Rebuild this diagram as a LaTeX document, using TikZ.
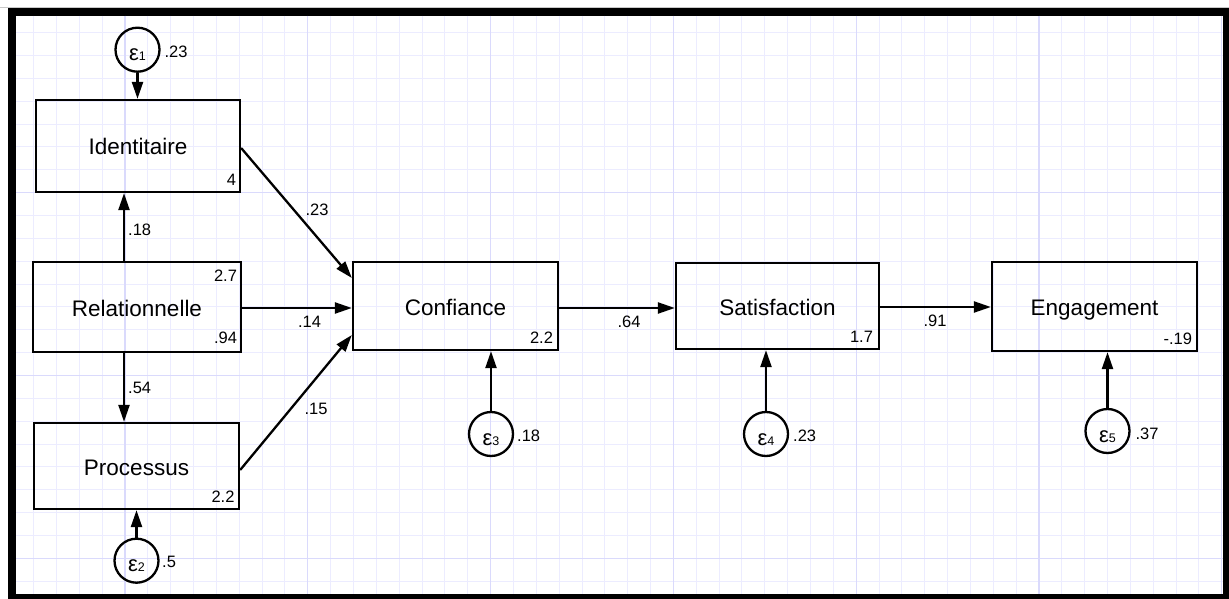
\documentclass[tikz,border=0pt]{standalone}
\usepackage{fontspec}
\setmainfont{Liberation Sans}
\usetikzlibrary{arrows.meta,calc}

\definecolor{gridminor}{RGB}{236,236,255}
\definecolor{gridmajor}{RGB}{218,218,252}
\definecolor{edgegray}{RGB}{200,200,200}

% error term label: epsilon with a small index
\newcommand\errlabel[1]{{\fontsize{22}{22}\selectfont ε}{\fontsize{12.5}{12.5}\selectfont #1}}

\begin{document}
\begin{tikzpicture}[x=1pt,y=-1pt,
  varbox/.style={draw, line width=2.3pt, inner sep=0pt,
    font=\fontsize{22.5}{22.5}\selectfont, text height=18pt, text depth=0pt},
  errnode/.style={circle, draw, line width=2.3pt, minimum size=44pt, inner sep=0pt},
  num/.style={inner sep=0pt, font=\fontsize{16.5}{16.5}\selectfont},
  arr/.style={line width=2.3pt, -{Triangle[length=17pt,width=11pt]}}
]
\useasboundingbox (0,0) rectangle (1229,599);

% frame
\fill[white] (0,0) rectangle (1229,599);
\draw[edgegray, line width=1pt] (0,7.5) -- (1229,7.5);
\fill[black] (8,8) rectangle (1229,599);
\fill[white] (16,16) rectangle (1223,594);

% grid paper
\begin{scope}
  \clip (16,16) rectangle (1223,594);
  \foreach \k in {-4,...,48}
    \draw[gridminor, line width=1pt] ({125+22.85*\k},16) -- ({125+22.85*\k},594);
  \foreach \k in {-7,...,17}
    \draw[gridminor, line width=1pt] (16,{192.7+22.85*\k}) -- (1223,{192.7+22.85*\k});
  \foreach \k in {0,8,...,48}
    \draw[gridmajor, line width=1.2pt] ({125+22.85*\k},16) -- ({125+22.85*\k},594);
  \foreach \k in {0,8,16}
    \draw[gridmajor, line width=1.2pt] (16,{192.7+22.85*\k}) -- (1223,{192.7+22.85*\k});
\end{scope}

% observed variables
\node[varbox, minimum width=204pt, minimum height=92pt] (ident) at (138,146) {Identitaire};
\node[varbox, minimum width=208pt, minimum height=90pt] (rel) at (137,307) {Relationnelle};
\node[varbox, minimum width=205pt, minimum height=86pt] (proc) at (136.5,466) {Processus};
\node[varbox, minimum width=205pt, minimum height=88pt] (conf) at (455.5,306) {Confiance};
\node[varbox, minimum width=203pt, minimum height=86pt] (sat) at (777.5,306) {Satisfaction};
\node[varbox, minimum width=205pt, minimum height=89pt] (eng) at (1094.5,306.5) {Engagement};

% intercepts and variances
\node[num, anchor=base east] (ni) at ([xshift=-5pt,yshift=8pt]ident.south east) {4};
\node[num, anchor=base east] (nr1) at ([xshift=-5pt,yshift=-20.7pt]rel.north east) {2.7};
\node[num, anchor=base east] (nr2) at ([xshift=-5pt,yshift=9.7pt]rel.south east) {.94};
\node[num, anchor=base east] (np) at ([xshift=-5.5pt,yshift=7.7pt]proc.south east) {2.2};
\node[num, anchor=base east] (nc) at ([xshift=-6pt,yshift=7.7pt]conf.south east) {2.2};
\node[num, anchor=base east] (ns) at ([xshift=-7pt,yshift=7.5pt]sat.south east) {1.7};
\node[num, anchor=base east] (ne) at ([xshift=-6pt,yshift=7.7pt]eng.south east) {-.19};

% error terms
\node[errnode] (e1) at (137.5,49.7) {};
\node[errnode] (e2) at (136.5,560.7) {};
\node[errnode] (e3) at (491,434) {};
\node[errnode] (e4) at (766,434) {};
\node[errnode] (e5) at (1107.5,431) {};
\foreach \e/\i in {e1/1,e2/2,e3/3,e4/4,e5/5}
  \node[inner sep=0pt, anchor=base] (\e t) at ([yshift=-11pt]\e.center) {\errlabel{\i}};

\node[num, anchor=base west] (v1) at (164.3,57.3) {.23};
\node[num, anchor=base west] (v2) at (162,567.7) {.5};
\node[num, anchor=base west] (v3) at (517,441.7) {.18};
\node[num, anchor=base west] (v4) at (793,441.7) {.23};
\node[num, anchor=base west] (v5) at (1135.3,439) {.37};

% error paths
\draw[arr] (e1.south) -- (e1.south |- ident.north);
\draw[arr] (e2.north) -- (e2.north |- proc.south);
\draw[arr] (e3.north) -- (e3.north |- conf.south);
\draw[arr] (e4.north) -- (e4.north |- sat.south);
\draw[arr] (e5.north) -- (e5.north |- eng.south);

% structural paths
\draw[arr] ([xshift=-13pt]rel.north) -- ([xshift=-13pt]rel.north |- ident.south);
\draw[arr] ([xshift=-13pt]rel.south) -- ([xshift=-13pt]rel.south |- proc.north);
\draw[arr] ([yshift=-2pt]ident.east) -- ([yshift=28pt]conf.west);
\draw[arr] ([yshift=-1pt]rel.east) -- ([yshift=-1pt]rel.east -| conf.west);
\draw[arr] ([yshift=-4pt]proc.east) -- ([yshift=-29pt]conf.west);
\draw[arr] ([yshift=-2pt]conf.east) -- ([yshift=-2pt]conf.east -| sat.west);
\draw[arr] ([yshift=-1pt]sat.east) -- ([yshift=-1pt]sat.east -| eng.west);

% path coefficients
\node[num, anchor=base] (c1) at (139.7,235) {.18};
\node[num, anchor=base] (c2) at (139.7,393.3) {.54};
\node[num, anchor=base] (c3) at (317,215) {.23};
\node[num, anchor=base] (c4) at (309.5,327.3) {.14};
\node[num, anchor=base] (c5) at (316,414) {.15};
\node[num, anchor=base] (c6) at (629,327.3) {.64};
\node[num, anchor=base] (c7) at (935,326.7) {.91};
\end{tikzpicture}
\end{document}
